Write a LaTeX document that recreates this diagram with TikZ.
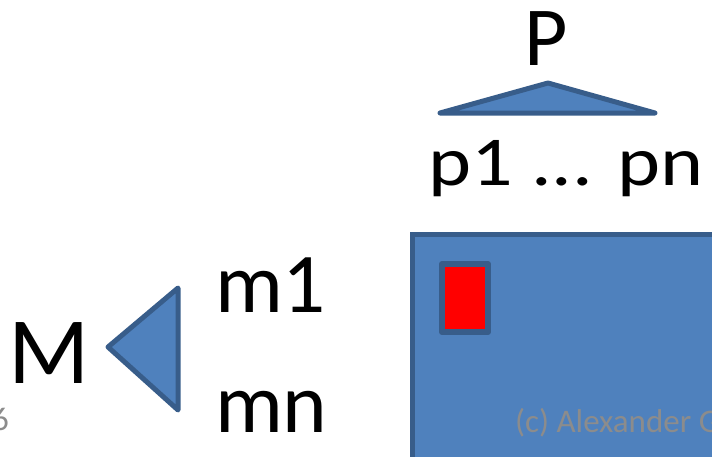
\documentclass[tikz,border=0pt]{standalone}
\usepackage{fontspec}
\setmainfont{Carlito}
\definecolor{shapefill}{HTML}{4F81BD}
\definecolor{shapeline}{HTML}{385D8A}
\definecolor{notegray}{HTML}{8C8C8C}
\newcommand{\bigtext}[1]{\fontsize{#1}{#1}\selectfont}
\begin{document}
\begin{tikzpicture}[x=1pt, y=-1pt,
    blueshape/.style={draw=shapeline, fill=shapefill, line width=5pt, line join=round},
    label/.style={inner sep=0pt, outer sep=0pt},
    note/.style={inner sep=0pt, text=notegray, font=\bigtext{33}}]
    \useasboundingbox (0, 0) rectangle (712, 456);
    \clip (0, 0) rectangle (712, 456);
        % upper triangle
        \draw[blueshape] (440, 113) -- (548, 83) -- (655, 113) -- cycle;
        \node[label, anchor=base, font=\bigtext{84}] (P) at (546, 65) {P};
        \node[label, anchor=base west, font=\bigtext{70}] (plist) at (428, 185) {\scalebox{1.17}[1]{p1 ... pn}};
        % left triangle
        \draw[blueshape] (108, 347) -- (178, 288) -- (178, 410) -- cycle;
        \node[label, anchor=base west, font=\bigtext{95}] (M) at (8.5, 383) {M};
        \node[label, anchor=base west, font=\bigtext{85}] (mfirst) at (215, 312) {m1};
        \node[label, anchor=base west, font=\bigtext{85}] (mlast) at (215, 432) {mn};
        % box
        \draw[blueshape, line join=miter] (412.5, 234.5) rectangle (740, 490);
        \draw[blueshape, fill=red, line width=6pt] (442, 264) rectangle (488, 332);
        \node[note, anchor=base west] (copy) at (515, 432) {(c) Alexander G};
        \node[note, anchor=base east] (year) at (9, 430) {6};
    \end{tikzpicture}
\end{document}
